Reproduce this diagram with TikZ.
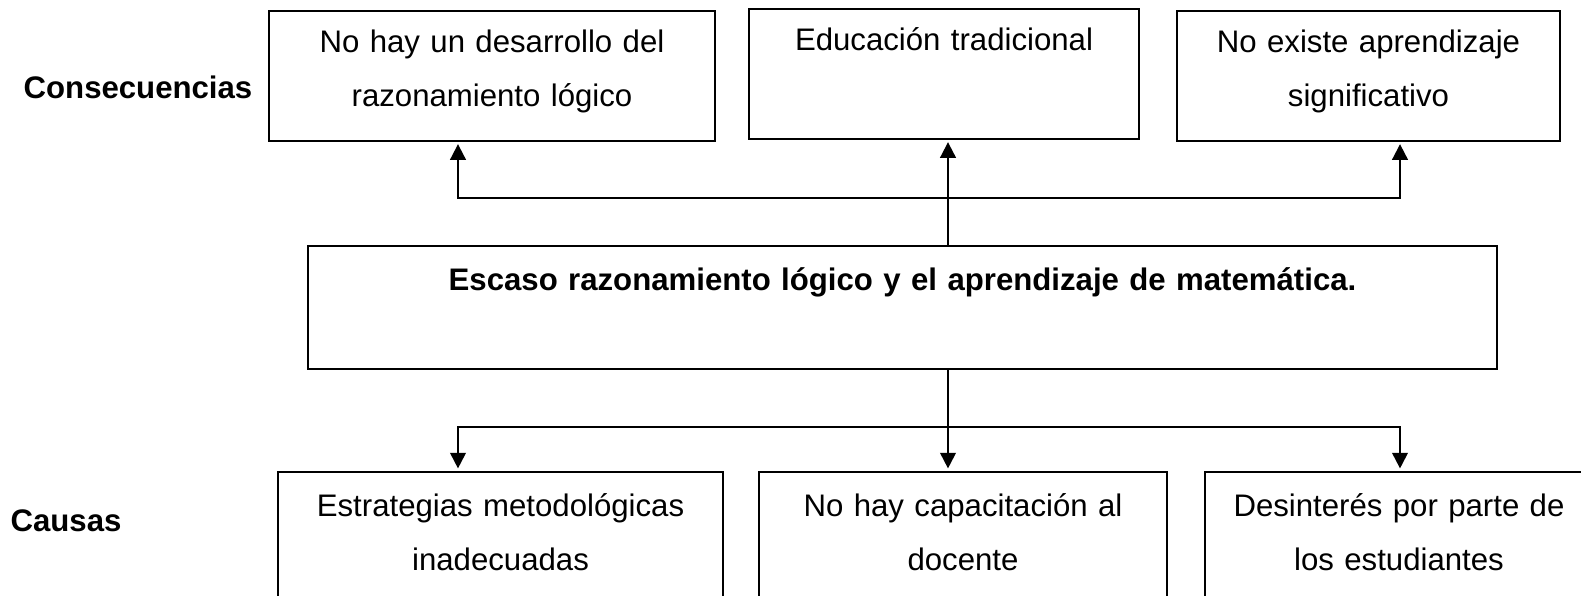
\documentclass[tikz,border=0pt]{standalone}
\usepackage{fontspec}
\setmainfont{Liberation Sans}
\usetikzlibrary{arrows.meta}
\begin{document}
\begin{tikzpicture}[x=0.385pt, y=-0.385pt,
    caja/.style={draw, line width=0.65pt, align=center, anchor=north, inner xsep=3pt, inner ysep=0pt, text height=16pt, text depth=34pt, font=\fontsize{12}{20.8}\selectfont},
    etiqueta/.style={font=\bfseries\fontsize{12}{14}\selectfont},
    flechas/.style={{Triangle[length=6pt,width=6pt]}-{Triangle[length=6pt,width=6pt]}, line width=0.75pt, shorten <=1pt, shorten >=1pt},
    flecha/.style={-{Triangle[length=6pt,width=6pt]}, line width=0.75pt, shorten >=1pt}]
    \useasboundingbox (0,0) rectangle (1581,595);
    \node[etiqueta] (cons) at (138,87) {Consecuencias};
    \node[etiqueta] (caus) at (66,521) {Causas};
    \node[caja, text width=165.7pt] (c1) at (492,10) {No hay un desarrollo del\\razonamiento lógico};
    \node[caja, text width=144.2pt] (c2) at (944,8) {Educación tradicional};
    \node[caja, text width=141.5pt] (c3) at (1368.5,10) {No existe aprendizaje\\significativo};
    \node[caja, text width=451.8pt, text height=17pt, text depth=30.4pt, font=\bfseries\fontsize{12}{20.8}\selectfont] (centro) at (902.5,245) {Escaso razonamiento lógico y el aprendizaje de matemática.};
    \node[caja, text width=165.3pt, text height=17pt] (b1) at (500.5,471) {Estrategias metodológicas\\inadecuadas};
    \node[caja, text width=151pt, text height=17pt] (b2) at (963,471) {No hay capacitación al\\docente};
    \node[caja, text width=143.4pt, text height=17pt] (b3) at (1399,471) {Desinterés por parte de\\los estudiantes};
    \coordinate (ci) at (458,198);
    \coordinate (cm) at (948,198);
    \coordinate (cd) at (1400,198);
    \coordinate (ai) at (458,427);
    \coordinate (am) at (948,427);
    \coordinate (ad) at (1400,427);
    \draw[flechas] (c1.south -| ci) -- (ci) -- (cd) -- (c3.south -| cd);
    \draw[flecha] (centro.north -| cm) -- (c2.south -| cm);
    \draw[flechas] (b1.north -| ai) -- (ai) -- (ad) -- (b3.north -| ad);
    \draw[flecha] (centro.south -| am) -- (b2.north -| am);
\end{tikzpicture}
\end{document}
